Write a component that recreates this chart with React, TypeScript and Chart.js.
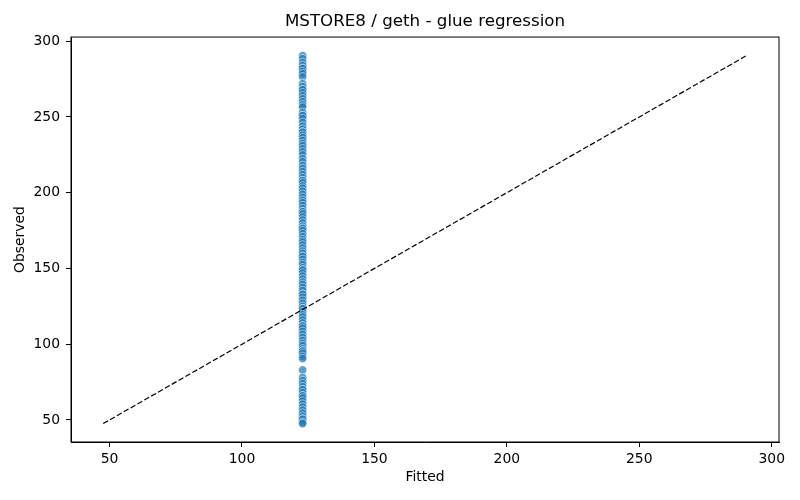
import React, { useEffect, useRef } from "react";
import { Chart, registerables } from "chart.js";

Chart.register(...registerables);

const titleText = "MSTORE8 / geth - glue regression";
const xLabel = "Fitted";
const yLabel = "Observed";
const fittedValue = 122.9;
const observed: number[] = [
  290.5, 288.5, 286, 284, 282, 282, 280, 278.5, 276.5,
  272, 270, 268, 268, 266, 264, 262, 260, 258, 256.5,
  253, 251, 251, 249, 246.5, 244, 242, 240, 240, 238, 236.5, 234.5, 232.5, 231, 229, 227, 225,
  222.5, 220.5, 218, 216, 214, 212, 210, 208, 208, 206.5, 204.5, 203, 201, 199, 197, 195, 193.5,
  191.5, 189.5, 187.5, 187.5, 186, 184, 182, 180, 178, 176.5, 176.5, 175, 173, 171, 169, 167.5, 165.5,
  163.5, 161.5, 160, 158, 158, 156, 154, 152.5, 150.5, 149, 149, 147, 145, 143, 141, 139.5, 137.5,
  135.5, 133, 133, 131, 129, 127, 125, 123.5, 123.5, 121.5, 119.5, 118, 116, 114, 112, 112, 110.5, 108.5,
  106.5, 104.5, 102.5, 100.5, 99, 97, 95.5, 95.5, 94, 92, 90.5,
  83, 78, 76, 74, 72, 70, 70, 68, 66, 66, 64.5, 62.5, 60.5, 58.5, 56.5, 54.5, 52.5, 50.5, 50.5, 48.5, 47.6,
];
const lineStart = 47.6;
const lineEnd = 290.6;
const xTicks = [50, 100, 150, 200, 250, 300];
const yTicks = [50, 100, 150, 200, 250, 300];

const FONT = "'DejaVu Sans', sans-serif";

export default function App() {
  const ref = useRef<HTMLCanvasElement | null>(null);

  useEffect(() => {
    if (!ref.current) return;
    const lo = Math.min(lineStart, ...observed);
    const hi = Math.max(lineEnd, ...observed);
    const pad = (hi - lo) * 0.05;

    const framePlugin = {
      id: "frame",
      afterDraw(chart: any) {
        const { ctx, chartArea } = chart;
        ctx.save();
        ctx.strokeStyle = "#000";
        ctx.lineWidth = 1;
        ctx.strokeRect(chartArea.left, chartArea.top, chartArea.right - chartArea.left, chartArea.bottom - chartArea.top);
        ctx.restore();
      },
    };

    const chart = new Chart(ref.current, {
      type: "scatter",
      data: {
        datasets: [
          {
            type: "scatter",
            data: observed.map((y) => ({ x: fittedValue, y })),
            backgroundColor: "rgba(31,119,180,0.7)",
            borderColor: "rgba(255,255,255,0.7)",
            borderWidth: 0.75,
            pointRadius: 4.2,
            order: 2,
          },
          {
            type: "line",
            data: [
              { x: lineStart, y: lineStart },
              { x: lineEnd, y: lineEnd },
            ],
            borderColor: "#000",
            borderWidth: 1.2,
            borderDash: [5.5, 2.4],
            pointRadius: 0,
            fill: false,
            order: 1,
          } as any,
        ],
      },
      options: {
        responsive: false,
        animation: false,
        layout: { padding: { left: 0, right: 21, top: 0, bottom: 0 } },
        plugins: {
          legend: { display: false },
          tooltip: { enabled: false },
          title: {
            display: true,
            text: titleText,
            fullSize: false,
            color: "#000",
            font: { family: FONT, size: 16.7, weight: "normal", lineHeight: 1.2 },
            padding: { top: 12, bottom: 5 },
          },
        },
        scales: {
          x: {
            type: "linear",
            min: lo - pad,
            max: hi + pad,
            afterBuildTicks: (s: any) => {
              s.ticks = xTicks.map((v) => ({ value: v }));
            },
            afterFit: (s: any) => {
              s.height = 58;
            },
            grid: { drawOnChartArea: false, drawTicks: true, tickLength: 5, color: "#000", lineWidth: 1 },
            border: { display: true, color: "#000", width: 1 },
            ticks: { color: "#000", font: { family: FONT, size: 13.9 }, padding: 4, maxRotation: 0 },
            title: {
              display: true,
              text: xLabel,
              color: "#000",
              font: { family: FONT, size: 13.9, lineHeight: 1.2 },
              padding: { top: 0, bottom: 14.5 },
            },
          },
          y: {
            type: "linear",
            min: lo - pad,
            max: hi + pad,
            afterBuildTicks: (s: any) => {
              s.ticks = yTicks.map((v) => ({ value: v }));
            },
            afterFit: (s: any) => {
              s.width = 71;
            },
            grid: { drawOnChartArea: false, drawTicks: true, tickLength: 5, color: "#000", lineWidth: 1 },
            border: { display: true, color: "#000", width: 1 },
            ticks: { color: "#000", font: { family: FONT, size: 13.9 }, padding: 6 },
            title: {
              display: true,
              text: yLabel,
              color: "#000",
              font: { family: FONT, size: 13.9, lineHeight: 1.2 },
              padding: { top: 12.5, bottom: 0 },
            },
          },
        },
      },
      plugins: [framePlugin],
    });
    return () => chart.destroy();
  }, []);

  return (
    <div style={{ position: "absolute", left: 0, top: 0, width: 800, height: 500, background: "#fff" }}>
      <canvas ref={ref} width={800} height={500} />
    </div>
  );
}
